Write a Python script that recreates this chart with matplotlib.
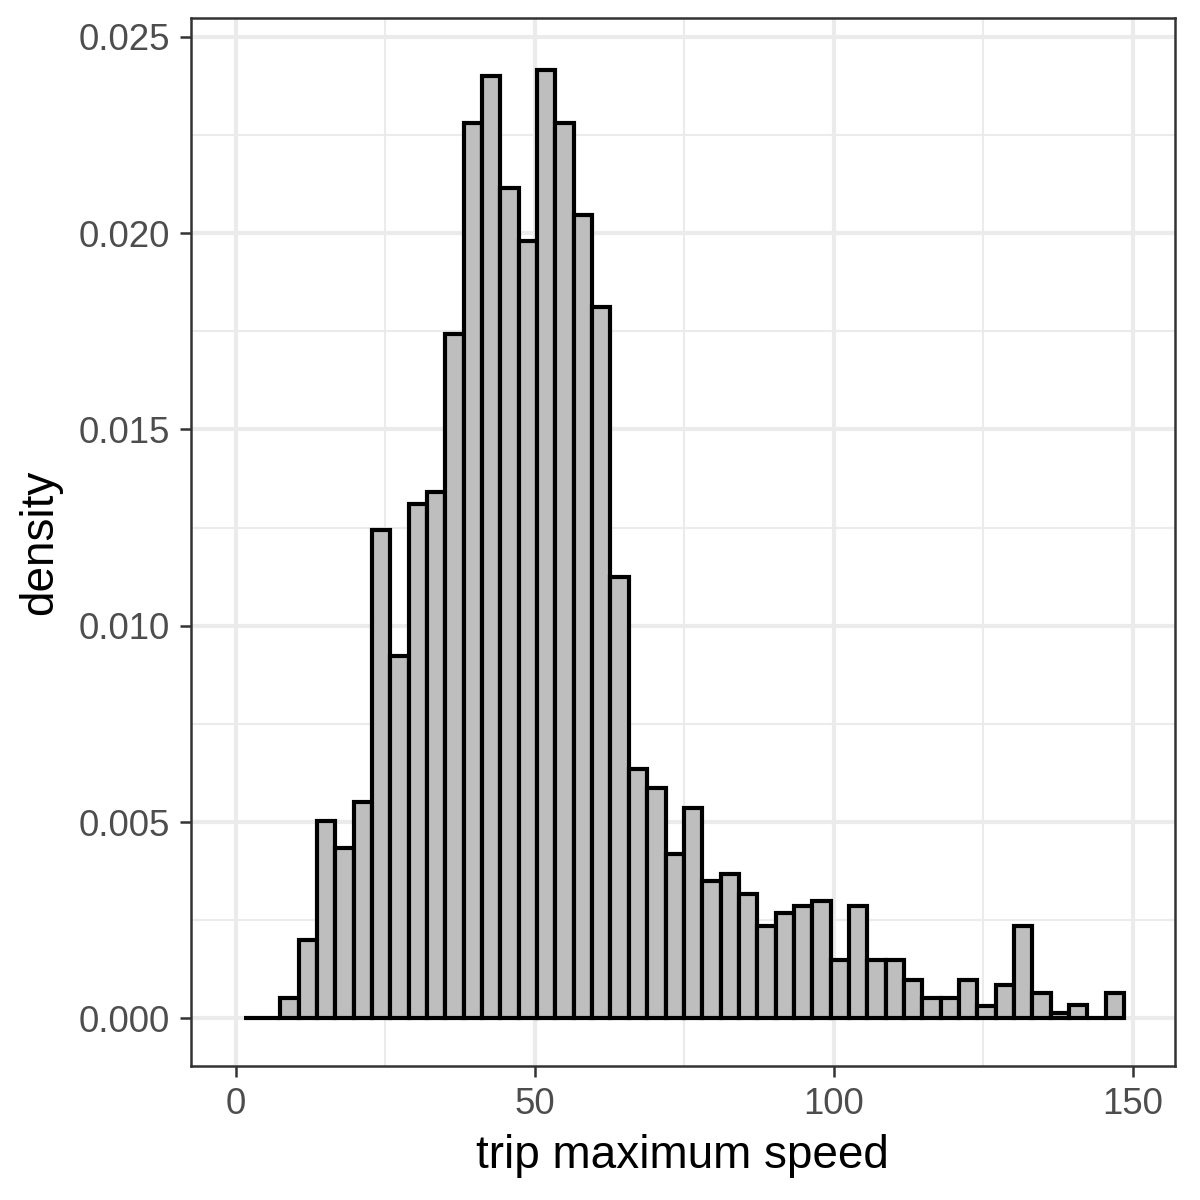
import numpy as np
import matplotlib.pyplot as plt

# histogram of trip maximum speed (density per bin)
bin_start = 1.34
bin_width = 3.066
density = [0, 0, 0.00051, 0.00201, 0.00504, 0.00435, 0.00552, 0.01243,
           0.00922, 0.01309, 0.01342, 0.01744, 0.0228, 0.02401, 0.02115, 0.01981,
           0.02416, 0.0228, 0.02047, 0.01813, 0.01125, 0.00636, 0.00587, 0.00419,
           0.00536, 0.00351, 0.00368, 0.00318, 0.00235, 0.00268, 0.00286, 0.00300,
           0.0015, 0.00286, 0.0015, 0.0015, 0.00099, 0.00051, 0.00051, 0.00099,
           0.00031, 0.00084, 0.00235, 0.00065, 0.00014, 0.00033, 0, 0.00065]
x_ticks = [0, 50, 100, 150]
y_ticks = [0.000, 0.005, 0.010, 0.015, 0.020, 0.025]

plt.rcParams['font.family'] = ['Liberation Sans', 'DejaVu Sans']

fig = plt.figure(figsize=(4, 4), dpi=300)
ax = fig.add_axes([0.159, 0.1117, 0.979 - 0.159, 0.985 - 0.1117])

lefts = bin_start + bin_width * np.arange(len(density))
ax.bar(lefts, density, width=bin_width, align='edge', color='#BEBEBE',
       edgecolor='black', linewidth=1.0, zorder=3)

ax.set_xlim(-7.5, 157.0)
ax.set_ylim(-0.00121, 0.02548)
ax.set_xticks(x_ticks)
ax.set_yticks(y_ticks)
ax.set_yticklabels(['%.3f' % v for v in y_ticks])
ax.set_xticks([25, 75, 125], minor=True)
ax.set_yticks([0.0025, 0.0075, 0.0125, 0.0175, 0.0225], minor=True)

ax.set_axisbelow(True)
ax.grid(which='major', color='#EBEBEB', linewidth=1.0)
ax.grid(which='minor', color='#EBEBEB', linewidth=0.5)

for s in ax.spines.values():
    s.set_color('#333333')
    s.set_linewidth(0.6)
ax.tick_params(which='major', length=2.75, width=0.6, color='#333333',
               labelsize=8.8, labelcolor='#4D4D4D', pad=2.2)
ax.tick_params(which='minor', length=0)

ax.set_xlabel('trip maximum speed', fontsize=11, color='black', labelpad=3)
ax.set_ylabel('density', fontsize=11, color='black', labelpad=4)

fig.savefig('out.png', dpi=300)
plt.close()
